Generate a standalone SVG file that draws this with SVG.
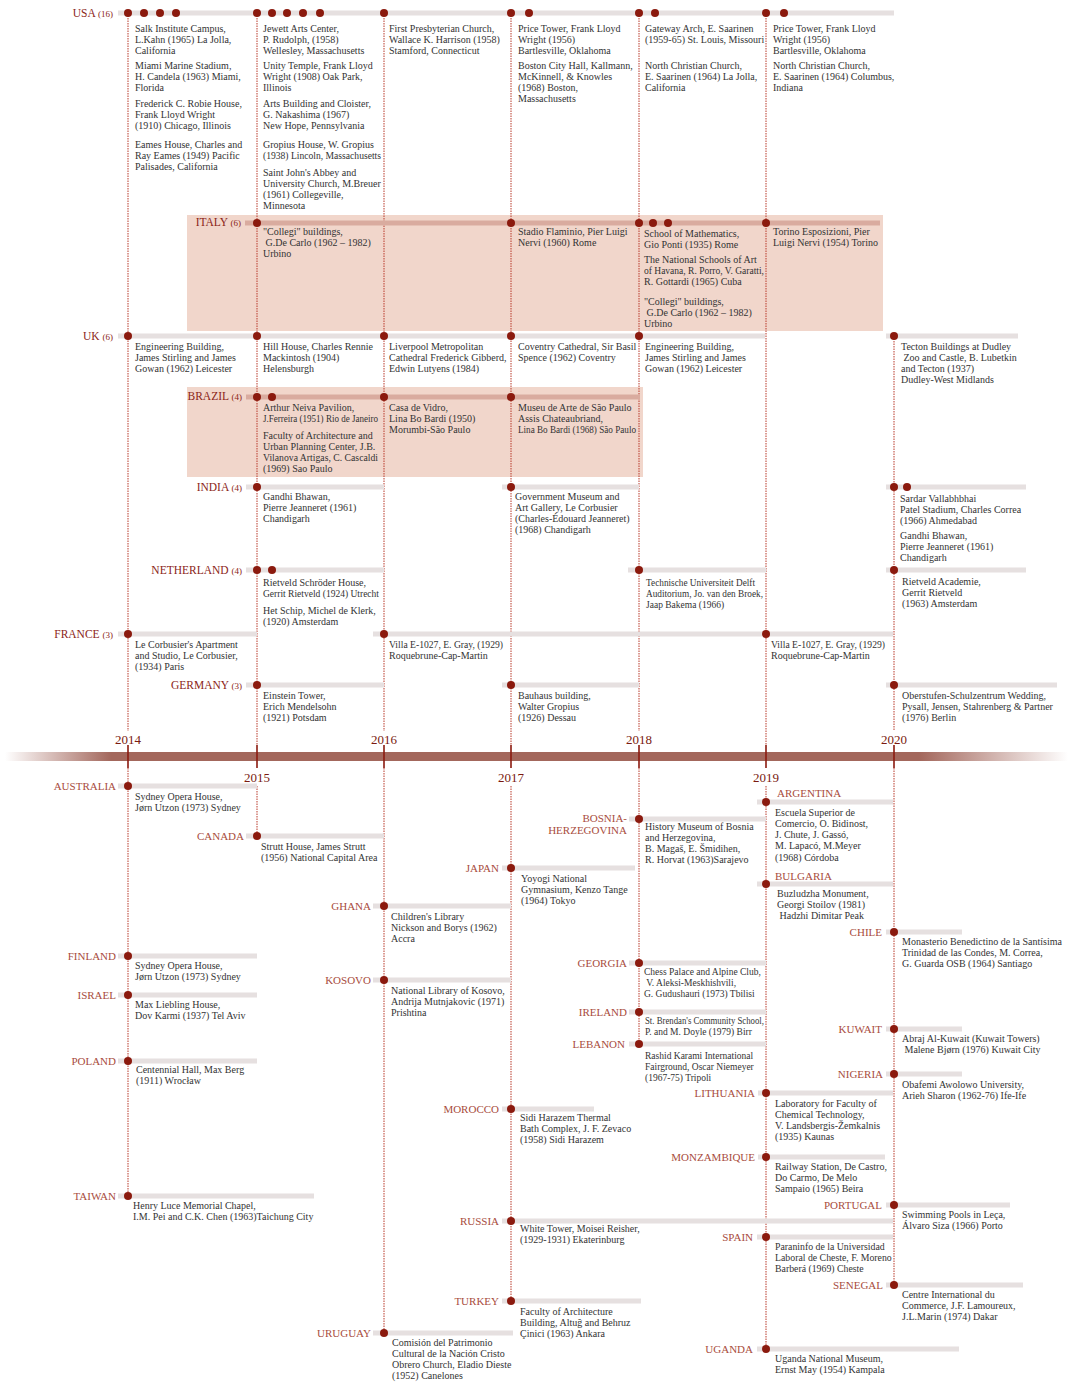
<svg xmlns="http://www.w3.org/2000/svg" width="1070" height="1382" viewBox="0 0 1070 1382">
<style>
.t{font-family:"Liberation Serif",serif;font-size:10px;fill:#333333}
.s{font-size:9.5px}
.c{font-family:"Liberation Serif",serif;font-size:11.5px;fill:#8b2417}
.n{font-size:9px}
.cb{font-family:"Liberation Serif",serif;font-size:11px;fill:#a84c3d}
.y{font-family:"Liberation Serif",serif;font-size:13px;fill:#7a1a10;text-anchor:middle}
.g{fill:#e6e0e0}
.p{fill:#d9ab9f}
.band{fill:#f1d6cb}
.d{fill:#8b1a0e}
.vl{stroke:#b8382a;stroke-width:1;stroke-dasharray:1.5 1;fill:none}
.tk{stroke:#8b1a0e;stroke-width:1.6}
</style>
<defs>
<linearGradient id="tl" gradientUnits="userSpaceOnUse" x1="5" y1="0" x2="1068" y2="0">
<stop offset="0" stop-color="#a3675c" stop-opacity="0"/>
<stop offset="0.1" stop-color="#a3675c" stop-opacity="1"/>
<stop offset="0.86" stop-color="#a3675c" stop-opacity="1"/>
<stop offset="1" stop-color="#a3675c" stop-opacity="0"/>
</linearGradient>
</defs>
<rect width="1070" height="1382" fill="#ffffff"/>

<g id="bands">
<rect class="band" x="187" y="215" width="696" height="116"/>
<rect class="band" x="187" y="387" width="456" height="90"/>
</g>

<g id="connectors">
<line class="vl" x1="128" y1="13" x2="128" y2="731"/>
<line class="vl" x1="257" y1="13" x2="257" y2="745"/>
<line class="vl" x1="384" y1="13" x2="384" y2="731"/>
<line class="vl" x1="511" y1="13" x2="511" y2="745"/>
<line class="vl" x1="639" y1="13" x2="639" y2="731"/>
<line class="vl" x1="766" y1="13" x2="766" y2="745"/>
<line class="vl" x1="894" y1="336" x2="894" y2="731"/>
<line class="vl" x1="128" y1="768" x2="128" y2="1196"/>
<line class="vl" x1="257" y1="786" x2="257" y2="836"/>
<line class="vl" x1="384" y1="768" x2="384" y2="1333"/>
<line class="vl" x1="511" y1="786" x2="511" y2="1301"/>
<line class="vl" x1="639" y1="768" x2="639" y2="1044"/>
<line class="vl" x1="766" y1="786" x2="766" y2="1349"/>
<line class="vl" x1="894" y1="768" x2="894" y2="1285"/>
</g>

<g id="timeline">
<rect x="5" y="752" width="1063" height="9" fill="url(#tl)"/>
<line class="tk" x1="128" y1="745" x2="128" y2="768"/>
<line class="tk" x1="257" y1="745" x2="257" y2="768"/>
<line class="tk" x1="384" y1="745" x2="384" y2="768"/>
<line class="tk" x1="511" y1="745" x2="511" y2="768"/>
<line class="tk" x1="639" y1="745" x2="639" y2="768"/>
<line class="tk" x1="766" y1="745" x2="766" y2="768"/>
<line class="tk" x1="894" y1="745" x2="894" y2="768"/>
<text class="y" x="128" y="744">2014</text>
<text class="y" x="384" y="744">2016</text>
<text class="y" x="639" y="744">2018</text>
<text class="y" x="894" y="744">2020</text>
<text class="y" x="257" y="781.5">2015</text>
<text class="y" x="511" y="781.5">2017</text>
<text class="y" x="766" y="781.5">2019</text>
</g>

<g id="usa">
<text class="c" x="113" y="17" text-anchor="end">USA <tspan class="n">(16)</tspan></text>
<rect class="g" x="118" y="10.5" width="776" height="5"/>
<circle class="d" cx="128" cy="13" r="4"/><circle class="d" cx="144" cy="13" r="4"/><circle class="d" cx="160" cy="13" r="4"/><circle class="d" cx="176" cy="13" r="4"/>
<circle class="d" cx="257" cy="13" r="4"/><circle class="d" cx="272" cy="13" r="4"/><circle class="d" cx="287" cy="13" r="4"/><circle class="d" cx="303" cy="13" r="4"/><circle class="d" cx="320" cy="13" r="4"/>
<circle class="d" cx="384" cy="13" r="4"/><circle class="d" cx="511" cy="13" r="4"/><circle class="d" cx="529" cy="13" r="4"/>
<circle class="d" cx="639" cy="13" r="4"/><circle class="d" cx="655" cy="13" r="4"/><circle class="d" cx="766" cy="13" r="4"/><circle class="d" cx="784" cy="13" r="4"/>
<text class="t" y="31.5"><tspan x="135">Salk Institute Campus,</tspan><tspan x="135" dy="11.3">L.Kahn (1965) La Jolla,</tspan><tspan x="135" dy="11.3">California</tspan></text>
<text class="t" y="68.5"><tspan x="135">Miami Marine Stadium,</tspan><tspan x="135" dy="11.3">H. Candela (1963) Miami,</tspan><tspan x="135" dy="11.3">Florida</tspan></text>
<text class="t" y="106.5"><tspan x="135">Frederick C. Robie House,</tspan><tspan x="135" dy="11.3">Frank Lloyd Wright</tspan><tspan x="135" dy="11.3">(1910) Chicago, Illinois</tspan></text>
<text class="t" y="147.5"><tspan x="135">Eames House, Charles and</tspan><tspan x="135" dy="11.3">Ray Eames (1949) Pacific</tspan><tspan x="135" dy="11.3">Palisades, California</tspan></text>
<text class="t" y="31.5"><tspan x="263">Jewett Arts Center,</tspan><tspan x="263" dy="11.3">P. Rudolph, (1958)</tspan><tspan x="263" dy="11.3">Wellesley, Massachusetts</tspan></text>
<text class="t" y="68.5"><tspan x="263">Unity Temple, Frank Lloyd</tspan><tspan x="263" dy="11.3">Wright (1908) Oak Park,</tspan><tspan x="263" dy="11.3">Illinois</tspan></text>
<text class="t" y="106.5"><tspan x="263">Arts Building and Cloister,</tspan><tspan x="263" dy="11.3">G. Nakashima (1967)</tspan><tspan x="263" dy="11.3">New Hope, Pennsylvania</tspan></text>
<text class="t" y="147.5"><tspan x="263">Gropius House, W. Gropius</tspan><tspan x="263" dy="11.3" textLength="118" lengthAdjust="spacingAndGlyphs">(1938) Lincoln, Massachusetts</tspan></text>
<text class="t" y="175.5"><tspan x="263">Saint John's Abbey and</tspan><tspan x="263" dy="11.3">University Church, M.Breuer</tspan><tspan x="263" dy="11.3">(1961) Collegeville,</tspan><tspan x="263" dy="11.3">Minnesota</tspan></text>
<text class="t" y="31.5"><tspan x="389">First Presbyterian Church,</tspan><tspan x="389" dy="11.3">Wallace K. Harrison (1958)</tspan><tspan x="389" dy="11.3">Stamford, Connecticut</tspan></text>
<text class="t" y="31.5"><tspan x="518">Price Tower, Frank Lloyd</tspan><tspan x="518" dy="11.3">Wright (1956)</tspan><tspan x="518" dy="11.3">Bartlesville, Oklahoma</tspan></text>
<text class="t" y="68.5"><tspan x="518">Boston City Hall, Kallmann,</tspan><tspan x="518" dy="11.3">McKinnell, &amp; Knowles</tspan><tspan x="518" dy="11.3">(1968) Boston,</tspan><tspan x="518" dy="11.3">Massachusetts</tspan></text>
<text class="t" y="31.5"><tspan x="645">Gateway Arch, E. Saarinen</tspan><tspan x="645" dy="11.3">(1959-65) St. Louis, Missouri</tspan></text>
<text class="t" y="68.5"><tspan x="645">North Christian Church,</tspan><tspan x="645" dy="11.3">E. Saarinen (1964) La Jolla,</tspan><tspan x="645" dy="11.3">California</tspan></text>
<text class="t" y="31.5"><tspan x="773">Price Tower, Frank Lloyd</tspan><tspan x="773" dy="11.3">Wright (1956)</tspan><tspan x="773" dy="11.3">Bartlesville, Oklahoma</tspan></text>
<text class="t" y="68.5"><tspan x="773">North Christian Church,</tspan><tspan x="773" dy="11.3">E. Saarinen (1964) Columbus,</tspan><tspan x="773" dy="11.3">Indiana</tspan></text>
</g>

<g id="italy">
<text class="c" x="241" y="226" text-anchor="end">ITALY <tspan class="n">(6)</tspan></text>
<rect class="p" x="245" y="220.5" width="635" height="5"/>
<circle class="d" cx="257" cy="223" r="4"/><circle class="d" cx="511" cy="223" r="4"/><circle class="d" cx="639" cy="223" r="4"/><circle class="d" cx="653" cy="223" r="4"/><circle class="d" cx="668" cy="223" r="4"/><circle class="d" cx="766" cy="223" r="4"/>
<text class="t" y="234.5"><tspan x="263">"Collegi" buildings,</tspan><tspan x="263" dy="11.3"> G.De Carlo (1962 – 1982)</tspan><tspan x="263" dy="11.3">Urbino</tspan></text>
<text class="t" y="234.5"><tspan x="518">Stadio Flaminio, Pier Luigi</tspan><tspan x="518" dy="11.3">Nervi (1960) Rome</tspan></text>
<text class="t" y="236.5"><tspan x="644">School of Mathematics,</tspan><tspan x="644" dy="11.3">Gio Ponti (1935) Rome</tspan></text>
<text class="t" y="262.5"><tspan x="644">The National Schools of Art</tspan><tspan x="644" dy="11.3" textLength="120" lengthAdjust="spacingAndGlyphs">of Havana, R. Porro, V. Garatti,</tspan><tspan x="644" dy="11.3">R. Gottardi (1965) Cuba</tspan></text>
<text class="t" y="304.5"><tspan x="644">"Collegi" buildings,</tspan><tspan x="644" dy="11.3"> G.De Carlo (1962 – 1982)</tspan><tspan x="644" dy="11.3">Urbino</tspan></text>
<text class="t" y="234.5"><tspan x="773">Torino Esposizioni, Pier</tspan><tspan x="773" dy="11.3">Luigi Nervi (1954) Torino</tspan></text>
</g>

<g id="uk">
<text class="c" x="113" y="340" text-anchor="end">UK <tspan class="n">(6)</tspan></text>
<rect class="g" x="118" y="333.5" width="647" height="5"/>
<rect class="g" x="886" y="333.5" width="132" height="5"/>
<circle class="d" cx="128" cy="336" r="4"/><circle class="d" cx="257" cy="336" r="4"/><circle class="d" cx="384" cy="336" r="4"/><circle class="d" cx="511" cy="336" r="4"/><circle class="d" cx="639" cy="336" r="4"/><circle class="d" cx="894" cy="336" r="4"/>
<text class="t" y="349.5"><tspan x="135">Engineering Building,</tspan><tspan x="135" dy="11.3">James Stirling and James</tspan><tspan x="135" dy="11.3">Gowan (1962) Leicester</tspan></text>
<text class="t" y="349.5"><tspan x="263">Hill House, Charles Rennie</tspan><tspan x="263" dy="11.3">Mackintosh (1904)</tspan><tspan x="263" dy="11.3">Helensburgh</tspan></text>
<text class="t" y="349.5"><tspan x="389">Liverpool Metropolitan</tspan><tspan x="389" dy="11.3">Cathedral Frederick Gibberd,</tspan><tspan x="389" dy="11.3">Edwin Lutyens (1984)</tspan></text>
<text class="t" y="349.5"><tspan x="518">Coventry Cathedral, Sir Basil</tspan><tspan x="518" dy="11.3">Spence (1962) Coventry</tspan></text>
<text class="t" y="349.5"><tspan x="645">Engineering Building,</tspan><tspan x="645" dy="11.3">James Stirling and James</tspan><tspan x="645" dy="11.3">Gowan (1962) Leicester</tspan></text>
<text class="t" y="349.5"><tspan x="901">Tecton Buildings at Dudley</tspan><tspan x="901" dy="11.3"> Zoo and Castle, B. Lubetkin</tspan><tspan x="901" dy="11.3">and Tecton (1937)</tspan><tspan x="901" dy="11.3">Dudley-West Midlands</tspan></text>
</g>

<g id="brazil">
<text class="c" x="242" y="400" text-anchor="end">BRAZIL <tspan class="n">(4)</tspan></text>
<rect class="p" x="246" y="394.5" width="394" height="5"/>
<circle class="d" cx="257" cy="397" r="4"/><circle class="d" cx="272" cy="397" r="4"/><circle class="d" cx="384" cy="397" r="4"/><circle class="d" cx="511" cy="397" r="4"/>
<text class="t" y="410.5"><tspan x="263">Arthur Neiva Pavilion,</tspan><tspan x="263" dy="11.3" textLength="115" lengthAdjust="spacingAndGlyphs">J.Ferreira (1951) Rio de Janeiro</tspan></text>
<text class="t" y="438.5"><tspan x="263">Faculty of Architecture and</tspan><tspan x="263" dy="11.3">Urban Planning Center, J.B.</tspan><tspan x="263" dy="11.3" textLength="115" lengthAdjust="spacingAndGlyphs">Vilanova Artigas, C. Cascaldi</tspan><tspan x="263" dy="11.3">(1969) Sao Paulo</tspan></text>
<text class="t" y="410.5"><tspan x="389">Casa de Vidro,</tspan><tspan x="389" dy="11.3">Lina Bo Bardi (1950)</tspan><tspan x="389" dy="11.3">Morumbi-São Paulo</tspan></text>
<text class="t" y="410.5"><tspan x="518">Museu de Arte de São Paulo</tspan><tspan x="518" dy="11.3">Assis Chateaubriand,</tspan><tspan x="518" dy="11.3" textLength="118" lengthAdjust="spacingAndGlyphs">Lina Bo Bardi (1968) São Paulo</tspan></text>
</g>

<g id="india">
<text class="c" x="242" y="491" text-anchor="end">INDIA <tspan class="n">(4)</tspan></text>
<rect class="g" x="246" y="484.5" width="138" height="5"/>
<rect class="g" x="502" y="484.5" width="137" height="5"/>
<rect class="g" x="886" y="484.5" width="140" height="5"/>
<circle class="d" cx="257" cy="487" r="4"/><circle class="d" cx="511" cy="487" r="4"/><circle class="d" cx="894" cy="487" r="4"/><circle class="d" cx="907" cy="487" r="4"/>
<text class="t" y="499.5"><tspan x="263">Gandhi Bhawan,</tspan><tspan x="263" dy="11.3">Pierre Jeanneret (1961)</tspan><tspan x="263" dy="11.3">Chandigarh</tspan></text>
<text class="t" y="499.5"><tspan x="515">Government Museum and</tspan><tspan x="515" dy="11.3">Art Gallery, Le Corbusier</tspan><tspan x="515" dy="11.3">(Charles-Édouard Jeanneret)</tspan><tspan x="515" dy="11.3">(1968) Chandigarh</tspan></text>
<text class="t" y="501.5"><tspan x="900">Sardar Vallabhbhai</tspan><tspan x="900" dy="11.3">Patel Stadium, Charles Correa</tspan><tspan x="900" dy="11.3">(1966) Ahmedabad</tspan></text>
<text class="t" y="538.5"><tspan x="900">Gandhi Bhawan,</tspan><tspan x="900" dy="11.3">Pierre Jeanneret (1961)</tspan><tspan x="900" dy="11.3">Chandigarh</tspan></text>
</g>

<g id="netherland">
<text class="c" x="242" y="574" text-anchor="end">NETHERLAND <tspan class="n">(4)</tspan></text>
<rect class="g" x="246" y="567.5" width="138" height="5"/>
<rect class="g" x="628" y="567.5" width="138" height="5"/>
<rect class="g" x="886" y="567.5" width="140" height="5"/>
<circle class="d" cx="257" cy="570" r="4"/><circle class="d" cx="272" cy="570" r="4"/><circle class="d" cx="639" cy="570" r="4"/><circle class="d" cx="894" cy="570" r="4"/>
<text class="t" y="585.5"><tspan x="263">Rietveld Schröder House,</tspan><tspan x="263" dy="11.3" textLength="116" lengthAdjust="spacingAndGlyphs">Gerrit Rietveld (1924) Utrecht</tspan></text>
<text class="t" y="613.5"><tspan x="263">Het Schip, Michel de Klerk,</tspan><tspan x="263" dy="11.3">(1920) Amsterdam</tspan></text>
<text class="t s" y="585.5"><tspan x="646" textLength="109" lengthAdjust="spacingAndGlyphs">Technische Universiteit Delft</tspan><tspan x="646" dy="11.3" textLength="117" lengthAdjust="spacingAndGlyphs">Auditorium, Jo. van den Broek,</tspan><tspan x="646" dy="11.3">Jaap Bakema (1966)</tspan></text>
<text class="t" y="584.5"><tspan x="902">Rietveld Academie,</tspan><tspan x="902" dy="11.3">Gerrit Rietveld</tspan><tspan x="902" dy="11.3">(1963) Amsterdam</tspan></text>
</g>

<g id="france">
<text class="c" x="113" y="638" text-anchor="end">FRANCE <tspan class="n">(3)</tspan></text>
<rect class="g" x="118" y="631.5" width="139" height="5"/>
<rect class="g" x="373" y="631.5" width="520" height="5"/>
<circle class="d" cx="128" cy="634" r="4"/><circle class="d" cx="384" cy="634" r="4"/><circle class="d" cx="766" cy="634" r="4"/>
<text class="t" y="647.5"><tspan x="135">Le Corbusier's Apartment</tspan><tspan x="135" dy="11.3">and Studio, Le Corbusier,</tspan><tspan x="135" dy="11.3">(1934) Paris</tspan></text>
<text class="t" y="647.5"><tspan x="389" textLength="114" lengthAdjust="spacingAndGlyphs">Villa E-1027, E. Gray, (1929)</tspan><tspan x="389" dy="11.3">Roquebrune-Cap-Martin</tspan></text>
<text class="t" y="647.5"><tspan x="771" textLength="114" lengthAdjust="spacingAndGlyphs">Villa E-1027, E. Gray, (1929)</tspan><tspan x="771" dy="11.3">Roquebrune-Cap-Martin</tspan></text>
</g>

<g id="germany">
<text class="c" x="242" y="689" text-anchor="end">GERMANY <tspan class="n">(3)</tspan></text>
<rect class="g" x="246" y="682.5" width="138" height="5"/>
<rect class="g" x="502" y="682.5" width="137" height="5"/>
<rect class="g" x="886" y="682.5" width="171" height="5"/>
<circle class="d" cx="257" cy="685" r="4"/><circle class="d" cx="511" cy="685" r="4"/><circle class="d" cx="894" cy="685" r="4"/>
<text class="t" y="698.5"><tspan x="263">Einstein Tower,</tspan><tspan x="263" dy="11.3">Erich Mendelsohn</tspan><tspan x="263" dy="11.3">(1921) Potsdam</tspan></text>
<text class="t" y="698.5"><tspan x="518">Bauhaus building,</tspan><tspan x="518" dy="11.3">Walter Gropius</tspan><tspan x="518" dy="11.3">(1926) Dessau</tspan></text>
<text class="t" y="698.5"><tspan x="902">Oberstufen-Schulzentrum Wedding,</tspan><tspan x="902" dy="11.3">Pysall, Jensen, Stahrenberg &amp; Partner</tspan><tspan x="902" dy="11.3">(1976) Berlin</tspan></text>
</g>

<g id="australia">
<text class="cb" x="116" y="790" text-anchor="end">AUSTRALIA</text>
<rect class="g" x="118" y="783.5" width="139" height="5"/><circle class="d" cx="128" cy="786" r="4"/>
<text class="t" y="799.5"><tspan x="135">Sydney Opera House,</tspan><tspan x="135" dy="11.3">Jørn Utzon (1973) Sydney</tspan></text>
</g>
<g id="canada">
<text class="cb" x="244" y="840" text-anchor="end">CANADA</text>
<rect class="g" x="246" y="833.5" width="138" height="5"/><circle class="d" cx="257" cy="836" r="4"/>
<text class="t" y="849.5"><tspan x="261">Strutt House, James Strutt</tspan><tspan x="261" dy="11.3">(1956) National Capital Area</tspan></text>
</g>
<g id="ghana">
<text class="cb" x="371" y="910" text-anchor="end">GHANA</text>
<rect class="g" x="373" y="903.5" width="138" height="5"/><circle class="d" cx="384" cy="906" r="4"/>
<text class="t" y="919.5"><tspan x="391">Children's Library</tspan><tspan x="391" dy="11.3">Nickson and Borys (1962)</tspan><tspan x="391" dy="11.3">Accra</tspan></text>
</g>
<g id="kosovo">
<text class="cb" x="371" y="984" text-anchor="end">KOSOVO</text>
<rect class="g" x="373" y="977.5" width="138" height="5"/><circle class="d" cx="384" cy="980" r="4"/>
<text class="t" y="993.5"><tspan x="391">National Library of Kosovo,</tspan><tspan x="391" dy="11.3">Andrija Mutnjakovic (1971)</tspan><tspan x="391" dy="11.3">Prishtina</tspan></text>
</g>
<g id="finland">
<text class="cb" x="116" y="960" text-anchor="end">FINLAND</text>
<rect class="g" x="118" y="953.5" width="139" height="5"/><circle class="d" cx="128" cy="956" r="4"/>
<text class="t" y="968.5"><tspan x="135">Sydney Opera House,</tspan><tspan x="135" dy="11.3">Jørn Utzon (1973) Sydney</tspan></text>
</g>
<g id="israel">
<text class="cb" x="116" y="999" text-anchor="end">ISRAEL</text>
<rect class="g" x="118" y="992.5" width="139" height="5"/><circle class="d" cx="128" cy="995" r="4"/>
<text class="t" y="1007.5"><tspan x="135">Max Liebling House,</tspan><tspan x="135" dy="11.3">Dov Karmi (1937) Tel Aviv</tspan></text>
</g>
<g id="poland">
<text class="cb" x="116" y="1065" text-anchor="end">POLAND</text>
<rect class="g" x="118" y="1058.5" width="139" height="5"/><circle class="d" cx="128" cy="1061" r="4"/>
<text class="t" y="1072.5"><tspan x="136">Centennial Hall, Max Berg</tspan><tspan x="136" dy="11.3">(1911) Wrocław</tspan></text>
</g>
<g id="taiwan">
<text class="cb" x="116" y="1200" text-anchor="end">TAIWAN</text>
<rect class="g" x="118" y="1193.5" width="196" height="5"/><circle class="d" cx="128" cy="1196" r="4"/>
<text class="t" y="1208.5"><tspan x="133">Henry Luce Memorial Chapel,</tspan><tspan x="133" dy="11.3">I.M. Pei and C.K. Chen (1963)Taichung City</tspan></text>
</g>
<g id="uruguay">
<text class="cb" x="371" y="1337" text-anchor="end">URUGUAY</text>
<rect class="g" x="373" y="1330.5" width="140" height="5"/><circle class="d" cx="384" cy="1333" r="4"/>
<text class="t" y="1345.5"><tspan x="392">Comisión del Patrimonio</tspan><tspan x="392" dy="11.3">Cultural de la Nación Cristo</tspan><tspan x="392" dy="11.3">Obrero Church, Eladio Dieste</tspan><tspan x="392" dy="11.3">(1952) Canelones</tspan></text>
</g>
<g id="japan">
<text class="cb" x="499" y="872" text-anchor="end">JAPAN</text>
<rect class="g" x="502" y="865.5" width="133" height="5"/><circle class="d" cx="511" cy="868" r="4"/>
<text class="t" y="881.5"><tspan x="521">Yoyogi National</tspan><tspan x="521" dy="11.3">Gymnasium, Kenzo Tange</tspan><tspan x="521" dy="11.3">(1964) Tokyo</tspan></text>
</g>
<g id="morocco">
<text class="cb" x="499" y="1113" text-anchor="end">MOROCCO</text>
<rect class="g" x="502" y="1106.5" width="92" height="5"/><circle class="d" cx="511" cy="1109" r="4"/>
<text class="t" y="1120.5"><tspan x="520">Sidi Harazem Thermal</tspan><tspan x="520" dy="11.3">Bath Complex, J. F. Zevaco</tspan><tspan x="520" dy="11.3">(1958) Sidi Harazem</tspan></text>
</g>
<g id="russia">
<text class="cb" x="499" y="1225" text-anchor="end">RUSSIA</text>
<rect class="g" x="502" y="1218.5" width="391" height="5"/><circle class="d" cx="511" cy="1221" r="4"/>
<text class="t" y="1231.5"><tspan x="520">White Tower, Moisei Reisher,</tspan><tspan x="520" dy="11.3">(1929-1931) Ekaterinburg</tspan></text>
</g>
<g id="turkey">
<text class="cb" x="499" y="1305" text-anchor="end">TURKEY</text>
<rect class="g" x="502" y="1298.5" width="139" height="5"/><circle class="d" cx="511" cy="1301" r="4"/>
<text class="t" y="1314.5"><tspan x="520">Faculty of Architecture</tspan><tspan x="520" dy="11.3">Building, Altuğ and Behruz</tspan><tspan x="520" dy="11.3">Çinici (1963) Ankara</tspan></text>
</g>
<g id="bosnia">
<text class="cb" text-anchor="end" y="822"><tspan x="627">BOSNIA-</tspan><tspan x="627" dy="12">HERZEGOVINA</tspan></text>
<rect class="g" x="629" y="816.5" width="137" height="5"/><circle class="d" cx="639" cy="819" r="4"/>
<text class="t" y="829.5"><tspan x="645">History Museum of Bosnia</tspan><tspan x="645" dy="11.3">and Herzegovina,</tspan><tspan x="645" dy="11.3">B. Magaš, E. Šmidihen,</tspan><tspan x="645" dy="11.3">R. Horvat (1963)Sarajevo</tspan></text>
</g>
<g id="georgia">
<text class="cb" x="627" y="967" text-anchor="end">GEORGIA</text>
<rect class="g" x="629" y="960.5" width="137" height="5"/><circle class="d" cx="639" cy="963" r="4"/>
<text class="t s" y="974.5"><tspan x="644">Chess Palace and Alpine Club,</tspan><tspan x="644" dy="11.3"> V. Aleksi-Meskhishvili,</tspan><tspan x="644" dy="11.3">G. Gudushauri (1973) Tbilisi</tspan></text>
</g>
<g id="ireland">
<text class="cb" x="627" y="1016" text-anchor="end">IRELAND</text>
<rect class="g" x="629" y="1009.5" width="137" height="5"/><circle class="d" cx="639" cy="1012" r="4"/>
<text class="t s" y="1023.5"><tspan x="645" textLength="119" lengthAdjust="spacingAndGlyphs">St. Brendan's Community School,</tspan><tspan x="645" dy="11.3">P. and M. Doyle (1979) Birr</tspan></text>
</g>
<g id="lebanon">
<text class="cb" x="625" y="1048" text-anchor="end">LEBANON</text>
<rect class="g" x="629" y="1041.5" width="137" height="5"/><circle class="d" cx="639" cy="1044" r="4"/>
<text class="t s" y="1058.5"><tspan x="645">Rashid Karami International</tspan><tspan x="645" dy="11.3">Fairground, Oscar Niemeyer</tspan><tspan x="645" dy="11.3">(1967-75) Tripoli</tspan></text>
</g>
<g id="argentina">
<text class="cb" x="777" y="797">ARGENTINA</text>
<rect class="g" x="757" y="799.5" width="136" height="5"/><circle class="d" cx="766" cy="802" r="4"/>
<text class="t" y="815.5"><tspan x="775">Escuela Superior de</tspan><tspan x="775" dy="11.3">Comercio, O. Bidinost,</tspan><tspan x="775" dy="11.3">J. Chute, J. Gassó,</tspan><tspan x="775" dy="11.3">M. Lapacó, M.Meyer</tspan><tspan x="775" dy="11.3">(1968) Córdoba</tspan></text>
</g>
<g id="bulgaria">
<text class="cb" x="775" y="880">BULGARIA</text>
<rect class="g" x="757" y="881.5" width="136" height="5"/><circle class="d" cx="766" cy="884" r="4"/>
<text class="t" y="896.5"><tspan x="777">Buzludzha Monument,</tspan><tspan x="777" dy="11.3">Georgi Stoilov (1981)</tspan><tspan x="777" dy="11.3"> Hadzhi Dimitar Peak</tspan></text>
</g>
<g id="chile">
<text class="cb" x="882" y="936" text-anchor="end">CHILE</text>
<rect class="g" x="886" y="929.5" width="76" height="5"/><circle class="d" cx="894" cy="932" r="4"/>
<text class="t" y="944.5"><tspan x="902">Monasterio Benedictino de la Santísima</tspan><tspan x="902" dy="11.3">Trinidad de las Condes, M. Correa,</tspan><tspan x="902" dy="11.3">G. Guarda OSB (1964) Santiago</tspan></text>
</g>
<g id="kuwait">
<text class="cb" x="882" y="1033" text-anchor="end">KUWAIT</text>
<rect class="g" x="886" y="1026.5" width="76" height="5"/><circle class="d" cx="894" cy="1029" r="4"/>
<text class="t" y="1041.5"><tspan x="902">Abraj Al-Kuwait (Kuwait Towers)</tspan><tspan x="902" dy="11.3"> Malene Bjørn (1976) Kuwait City</tspan></text>
</g>
<g id="nigeria">
<text class="cb" x="883" y="1078" text-anchor="end">NIGERIA</text>
<rect class="g" x="886" y="1071.5" width="76" height="5"/><circle class="d" cx="894" cy="1074" r="4"/>
<text class="t" y="1087.5"><tspan x="902">Obafemi Awolowo University,</tspan><tspan x="902" dy="11.3">Arieh Sharon (1962-76) Ife-Ife</tspan></text>
</g>
<g id="lithuania">
<text class="cb" x="755" y="1097" text-anchor="end">LITHUANIA</text>
<rect class="g" x="758" y="1090.5" width="135" height="5"/><circle class="d" cx="766" cy="1093" r="4"/>
<text class="t" y="1106.5"><tspan x="775">Laboratory for Faculty of</tspan><tspan x="775" dy="11.3">Chemical Technology,</tspan><tspan x="775" dy="11.3">V. Landsbergis-Žemkalnis</tspan><tspan x="775" dy="11.3">(1935) Kaunas</tspan></text>
</g>
<g id="monzambique">
<text class="cb" x="755" y="1161" text-anchor="end">MONZAMBIQUE</text>
<rect class="g" x="758" y="1154.5" width="127" height="5"/><circle class="d" cx="766" cy="1157" r="4"/>
<text class="t" y="1169.5"><tspan x="775">Railway Station, De Castro,</tspan><tspan x="775" dy="11.3">Do Carmo, De Melo</tspan><tspan x="775" dy="11.3">Sampaio (1965) Beira</tspan></text>
</g>
<g id="portugal">
<text class="cb" x="882" y="1209" text-anchor="end">PORTUGAL</text>
<rect class="g" x="886" y="1202.5" width="124" height="5"/><circle class="d" cx="894" cy="1205" r="4"/>
<text class="t" y="1217.5"><tspan x="902">Swimming Pools in Leça,</tspan><tspan x="902" dy="11.3">Álvaro Siza (1966) Porto</tspan></text>
</g>
<g id="spain">
<text class="cb" x="753" y="1241" text-anchor="end">SPAIN</text>
<rect class="g" x="757" y="1234.5" width="136" height="5"/><circle class="d" cx="766" cy="1237" r="4"/>
<text class="t" y="1249.5" style="font-size:9.8px"><tspan x="775">Paraninfo de la Universidad</tspan><tspan x="775" dy="11.3">Laboral de Cheste, F. Moreno</tspan><tspan x="775" dy="11.3">Barberá (1969) Cheste</tspan></text>
</g>
<g id="senegal">
<text class="cb" x="883" y="1289" text-anchor="end">SENEGAL</text>
<rect class="g" x="886" y="1282.5" width="137" height="5"/><circle class="d" cx="894" cy="1285" r="4"/>
<text class="t" y="1297.5"><tspan x="902">Centre International du</tspan><tspan x="902" dy="11.3">Commerce, J.F. Lamoureux,</tspan><tspan x="902" dy="11.3">J.L.Marin (1974) Dakar</tspan></text>
</g>
<g id="uganda">
<text class="cb" x="753" y="1353" text-anchor="end">UGANDA</text>
<rect class="g" x="757" y="1346.5" width="202" height="5"/><circle class="d" cx="766" cy="1349" r="4"/>
<text class="t" y="1361.5"><tspan x="775">Uganda National Museum,</tspan><tspan x="775" dy="11.3">Ernst May (1954) Kampala</tspan></text>
</g>
</svg>
